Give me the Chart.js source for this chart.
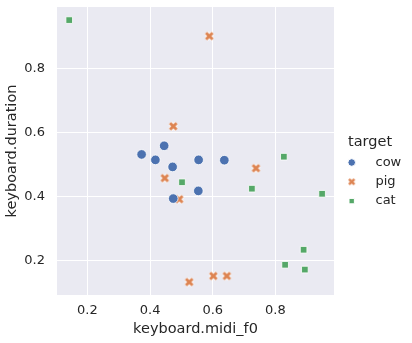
<!DOCTYPE html>
<html>
<head>
<meta charset="utf-8">
<script src="https://cdn.jsdelivr.net/npm/chart.js@4"></script>
<style>
  html, body { margin: 0; padding: 0; background: #fff; }
  #wrap { width: 412px; height: 343px; }
</style>
</head>
<body>
<div id="wrap"><canvas id="scatterChart" width="412" height="343"></canvas></div>
<script>
/* ================= DATA ================= */
const categories = ['cow', 'pig', 'cat'];

const cowX = [0.373, 0.417, 0.445, 0.472, 0.555, 0.637, 0.474, 0.554];
const cowY = [0.532, 0.515, 0.559, 0.493, 0.515, 0.514, 0.394, 0.418];

const pigX = [0.474, 0.589, 0.738, 0.447, 0.493, 0.525, 0.602, 0.645];
const pigY = [0.620, 0.902, 0.489, 0.458, 0.392, 0.133, 0.152, 0.152];

const catX = [0.142, 0.827, 0.502, 0.725, 0.949, 0.890, 0.831, 0.894];
const catY = [0.952, 0.525, 0.445, 0.425, 0.409, 0.234, 0.187, 0.172];

const xTicks = [0.2, 0.4, 0.6, 0.8];
const yTicks = [0.2, 0.4, 0.6, 0.8];

const colors = ['#4c72b0', '#dd8452', '#55a868'];
const textColor = '#262626';
const FONT = '"DejaVu Sans", sans-serif';

/* ================= MARKERS ================= */
// filled "X" marker with white edge, like seaborn
function makeX(color, s, w) {
  const c = document.createElement('canvas');
  c.width = c.height = s;
  const g = c.getContext('2d');
  const a = s * 0.2, b = s * 0.8;
  g.lineCap = 'butt';
  g.beginPath();
  g.moveTo(a, a); g.lineTo(b, b);
  g.moveTo(a, b); g.lineTo(b, a);
  g.strokeStyle = '#fff'; g.lineWidth = w + 1.5; g.stroke();
  g.strokeStyle = color; g.lineWidth = w; g.stroke();
  return c;
}
const pigMarker = makeX(colors[1], 11, 3);
const pigLegendMarker = makeX(colors[1], 9, 2.5);

const toPts = (xs, ys) => xs.map((x, i) => ({ x: x, y: ys[i] }));

/* ================= PLUGINS ================= */
const bgPlugin = {
  id: 'bg',
  beforeDraw(chart) {
    const { ctx, chartArea: a } = chart;
    ctx.save();
    ctx.fillStyle = '#eaeaf2';
    ctx.fillRect(a.left, a.top, a.right - a.left, a.bottom - a.top);
    ctx.restore();
  }
};

const legendPlugin = {
  id: 'sideLegend',
  afterDraw(chart) {
    const ctx = chart.ctx;
    ctx.save();
    ctx.fillStyle = textColor;
    ctx.textBaseline = 'middle';
    ctx.font = '14.5px ' + FONT;
    ctx.fillText('target', 348, 142);
    ctx.font = '13px ' + FONT;
    const styles = [
      { pointStyle: 'circle', radius: 3.8 },
      { pointStyle: pigLegendMarker, radius: 4 },
      { pointStyle: 'rect', radius: 3.8 }
    ];
    categories.forEach((name, i) => {
      const y = 162.5 + i * 19.3;
      ctx.fillStyle = colors[i];
      ctx.strokeStyle = '#fff';
      Chart.helpers.drawPoint(ctx, {
        pointStyle: styles[i].pointStyle,
        radius: styles[i].radius,
        rotation: 0,
        borderWidth: 0.8
      }, 351.7, y);
      ctx.fillStyle = textColor;
      ctx.fillText(name, 375.5, y);
    });
    ctx.restore();
  }
};

// keep the plot box fixed: no extra padding for edge tick labels
const noEdgePad = axis => {
  axis.paddingTop = 0; axis.paddingBottom = 0;
  axis.paddingLeft = 0; axis.paddingRight = 0;
};

/* ================= SCATTER ================= */
const scatterChart = new Chart(
  document.getElementById('scatterChart'),
  {
    type: 'scatter',
    data: {
      datasets: [
        {
          label: 'cow',
          data: toPts(cowX, cowY),
          backgroundColor: colors[0],
          borderColor: '#fff',
          borderWidth: 0.8,
          pointStyle: 'circle',
          pointRadius: 4.8
        },
        {
          label: 'pig',
          data: toPts(pigX, pigY),
          backgroundColor: colors[1],
          borderColor: '#fff',
          borderWidth: 0,
          pointStyle: pigMarker,
          pointRadius: 5
        },
        {
          label: 'cat',
          data: toPts(catX, catY),
          backgroundColor: colors[2],
          borderColor: '#fff',
          borderWidth: 0.8,
          pointStyle: 'rect',
          pointRadius: 4.7
        }
      ]
    },
    options: {
      responsive: false,
      animation: false,
      layout: { padding: { left: 0, top: 7, right: 78, bottom: 0 } },
      plugins: {
        legend: { display: false },
        tooltip: { enabled: false }
      },
      scales: {
        x: {
          type: 'linear',
          min: 0.103,
          max: 0.987,
          afterBuildTicks: axis => { axis.ticks = xTicks.map(v => ({ value: v })); },
          afterFit: axis => { axis.height = 48; noEdgePad(axis); },
          grid: { color: '#ffffff', lineWidth: 1, drawTicks: false },
          border: { display: false },
          ticks: {
            padding: 8,
            color: textColor,
            font: { family: FONT, size: 13 },
            callback: v => v.toFixed(1)
          },
          title: {
            display: true,
            text: 'keyboard.midi_f0',
            color: textColor,
            font: { family: FONT, size: 14.5 },
            padding: { top: 0, bottom: 5 }
          }
        },
        y: {
          type: 'linear',
          min: 0.0925,
          max: 0.993,
          afterBuildTicks: axis => { axis.ticks = yTicks.map(v => ({ value: v })); },
          afterFit: axis => { axis.width = 57; noEdgePad(axis); },
          grid: { color: '#ffffff', lineWidth: 1, drawTicks: false },
          border: { display: false },
          ticks: {
            padding: 12,
            color: textColor,
            font: { family: FONT, size: 13 },
            callback: v => v.toFixed(1)
          },
          title: {
            display: true,
            text: 'keyboard.duration',
            color: textColor,
            font: { family: FONT, size: 14.5 },
            padding: { top: 4, bottom: 0 }
          }
        }
      }
    },
    plugins: [bgPlugin, legendPlugin]
  }
);
</script>
</body>
</html>
